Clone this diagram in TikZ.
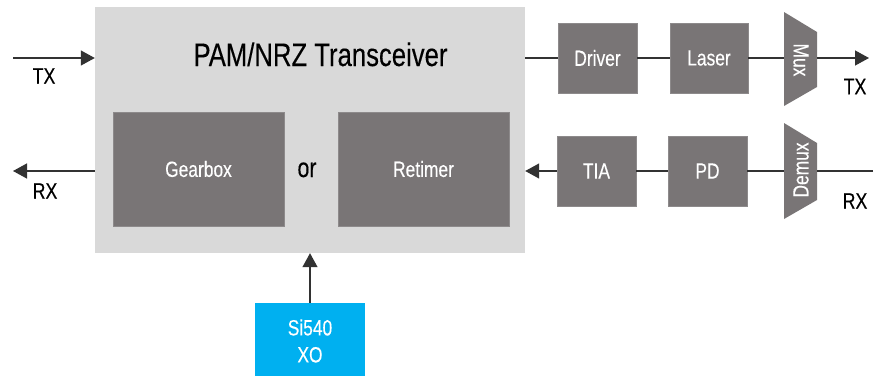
\documentclass[tikz,border=0pt]{standalone}
\usepackage{fontspec}
\setmainfont{Liberation Sans}[FakeStretch=0.79,FakeBold=0.25]
\usetikzlibrary{arrows.meta}
\definecolor{boxdark}{RGB}{121,117,118}
\definecolor{boxlight}{RGB}{217,217,217}
\definecolor{xocyan}{RGB}{0,176,240}
\definecolor{linecol}{RGB}{50,50,50}
\tikzset{
  blk/.style={fill=boxdark, draw=boxdark!85!white, line width=0.6pt, text=white, inner sep=0pt,
    font=\fontsize{22}{27}\selectfont},
  lbl/.style={inner sep=0pt, font=\fontsize{22.5}{27}\selectfont},
  conn/.style={draw=linecol, line width=1.3pt},
  arr/.style={conn, -{Triangle[length=14pt,width=15pt]}},
}
\begin{document}
\begin{tikzpicture}[x=1pt,y=-1pt]
\useasboundingbox (0,0) rectangle (880,375);
% main transceiver
\node[fill=boxlight, minimum width=430pt, minimum height=246pt, inner sep=0pt] (big) at (310,130) {};
\node[inner sep=0pt, anchor=base, font=\fontsize{32.5}{36}\selectfont] (title) at (320.5,66) {PAM/NRZ Transceiver};
\node[blk, minimum width=171pt, minimum height=114pt] (gear) at (198.5,169) {Gearbox};
\node[blk, minimum width=171pt, minimum height=114pt] (ret) at (423.5,169) {Retimer};
\node[inner sep=0pt, anchor=base, font=\fontsize{27}{30}\selectfont] (or) at (307,177) {or};
% TX chain
\node[blk, minimum width=79pt, minimum height=70pt] (drv) at (597.5,58) {Driver};
\node[blk, minimum width=78pt, minimum height=70pt] (las) at (709,58) {Laser};
\fill[boxdark] (784,12) -- (817,32) -- (817,87) -- (784,106) -- cycle;
\node[rotate=-90, text=white, inner sep=0pt, font=\fontsize{22}{27}\selectfont] (muxt) at (801,60) {Mux};
\coordinate (muxL) at (784,58);
\coordinate (muxR) at (817,58);
% RX chain
\node[blk, minimum width=79pt, minimum height=70pt] (tia) at (596.5,171) {TIA};
\node[blk, minimum width=79pt, minimum height=70pt] (pd) at (707.5,171) {PD};
\fill[boxdark] (784,123) -- (817,143) -- (817,200) -- (784,219) -- cycle;
\node[rotate=90, text=white, inner sep=0pt, font=\fontsize{22}{27}\selectfont] (demt) at (801,170) {Demux};
\coordinate (demL) at (784,171);
\coordinate (demR) at (817,171);
% XO
\node[fill=xocyan, minimum width=110pt, minimum height=76pt, inner sep=0pt, text=white,
  align=center, font=\fontsize{22}{27}\selectfont] (xo) at (310,341) {Si540\\XO};
% free ends
\coordinate (txin) at (13,58);
\coordinate (rxout) at (13,171);
\coordinate (txout) at (869,58);
\coordinate (rxin) at (873,171);
% labels
\node[lbl] (txl) at (44,76) {TX};
\node[lbl] (rxl) at (45,191) {RX};
\node[lbl] (txr) at (855,86.5) {TX};
\node[lbl] (rxr) at (855,201) {RX};
% connectors
\draw[arr] (txin) -- (txin -| big.west);
\draw[arr] (big.west |- rxout) -- (rxout);
\draw[conn] (drv.west -| big.east) -- (drv.west);
\draw[conn] (drv.east) -- (las.west);
\draw[conn] (las.east) -- (muxL);
\draw[arr] (muxR) -- (txout);
\draw[conn] (rxin) -- (demR);
\draw[conn] (demL) -- (pd.east |- demL);
\draw[conn] (pd.west |- demL) -- (tia.east |- demL);
\draw[arr] (tia.west |- rxin) -- (big.east |- rxin);
\draw[arr] (xo.north) -- (xo.north |- big.south);
\end{tikzpicture}
\end{document}
